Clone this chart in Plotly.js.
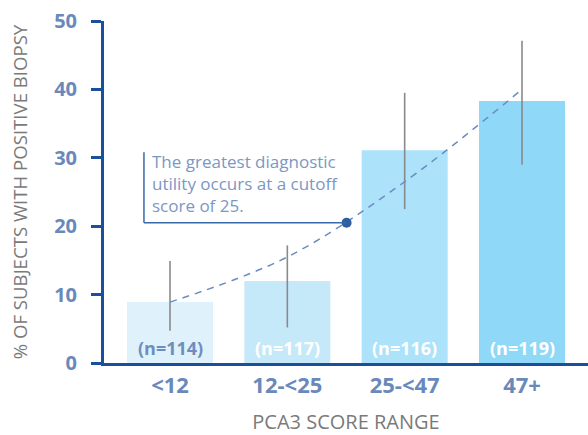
<!DOCTYPE html>
<html>
<head>
<meta charset="utf-8">
<script src="https://cdn.plot.ly/plotly-3.0.1.min.js"></script>
<style>html,body{margin:0;padding:0;background:#fff;}#chart{width:588px;height:435px;}</style>
</head>
<body>
<div id="chart"></div>
<script>
var categories = ["<12", "12-<25", "25-<47", "47+"];
var positivePct = [8.9, 12.0, 31.1, 38.3];
var ciUpper = [14.9, 17.2, 39.5, 47.1];
var ciLower = [4.7, 5.2, 22.5, 29.0];
var sampleLabels = ["(n=114)", "(n=117)", "(n=116)", "(n=119)"];
var barColors = ["#dff2fc", "#c6e9f9", "#ade2fb", "#8fd8f7"];
var nLabelColors = ["#6f8dbd", "#ffffff", "#ffffff", "#ffffff"];
var trendX = [0, 1, 2, 3];
var trendY = [8.9, 15.5, 26.5, 40.0];
var cutoffPoint = {x: 1.505, y: 20.5};
var noteLines = ["The greatest diagnostic", "utility occurs at a cutoff", "score of 25."];

var FONT = "'Open Sans', sans-serif";
var idx = categories.map(function(_, i){ return i; });

var bars = {
  type: "bar",
  x: idx,
  y: positivePct,
  width: 0.733,
  marker: {color: barColors},
  error_y: {
    type: "data", symmetric: false,
    array: positivePct.map(function(v, i){ return ciUpper[i] - v; }),
    arrayminus: positivePct.map(function(v, i){ return v - ciLower[i]; }),
    color: "#8a8a8a", thickness: 1.6, width: 0
  },
  hoverinfo: "none",
  showlegend: false
};

var trend = {
  type: "scatter", mode: "lines",
  x: trendX, y: trendY,
  line: {color: "#6a8cc0", width: 1.5, dash: "7px,6px", shape: "spline", smoothing: 1},
  hoverinfo: "none", showlegend: false
};

var cutoff = {
  type: "scatter", mode: "markers",
  x: [cutoffPoint.x], y: [cutoffPoint.y],
  marker: {color: "#2f5f9f", size: 10},
  hoverinfo: "none", showlegend: false
};

var noteLeft = -0.222, noteTop = 30.8;

var annotations = idx.map(function(i){
  return {
    x: i, y: 0, xref: "x", yref: "y",
    text: "<b>" + sampleLabels[i] + "</b>",
    showarrow: false, yanchor: "bottom", yshift: 1,
    font: {family: FONT, size: 18, color: nLabelColors[i]}
  };
});
annotations.push({
  x: noteLeft, y: noteTop, xref: "x", yref: "y",
  xanchor: "left", yanchor: "top", xshift: 7, yshift: 3,
  align: "left", borderpad: 0, showarrow: false,
  text: noteLines.join("<br>"),
  font: {family: FONT, size: 17, color: "#7b97c5"}
});

var shapes = [
  {type: "line", xref: "x", yref: "y", x0: noteLeft, x1: noteLeft, y0: noteTop, y1: cutoffPoint.y,
   line: {color: "#3a69aa", width: 1.5}},
  {type: "line", xref: "x", yref: "y", x0: noteLeft, x1: cutoffPoint.x, y0: cutoffPoint.y, y1: cutoffPoint.y,
   line: {color: "#3a69aa", width: 1.5}}
];

var layout = {
  width: 588, height: 435,
  margin: {l: 104, r: 0, t: 21, b: 72, pad: 0},
  paper_bgcolor: "#ffffff", plot_bgcolor: "#ffffff",
  xaxis: {
    range: [-0.5625, 3.5625],
    tickmode: "array", tickvals: idx, ticktext: categories.map(function(c){ return "<b>" + c + "</b>"; }),
    tickfont: {family: FONT, size: 22, color: "#6a89bb"},
    showline: true, linecolor: "#1a4f9c", linewidth: 3,
    ticks: "", showgrid: false, zeroline: false,
    ticklabelstandoff: 1,
    title: {text: "PCA3 SCORE RANGE", font: {family: FONT, size: 20, color: "#7a7a7a"}, standoff: 20}
  },
  yaxis: {
    range: [0, 50],
    tickvals: [0, 10, 20, 30, 40, 50],
    ticktext: ["<b>0</b>", "<b>10</b>", "<b>20</b>", "<b>30</b>", "<b>40</b>", "<b>50</b>"],
    tickfont: {family: FONT, size: 20, color: "#6a89bb"},
    showline: true, linecolor: "#1a4f9c", linewidth: 3,
    ticks: "outside", ticklen: 10, tickwidth: 3, tickcolor: "#1a4f9c",
    ticklabelstandoff: 10,
    showgrid: false, zeroline: false,
    title: {text: "% OF SUBJECTS WITH POSITIVE BIOPSY", font: {family: FONT, size: 18.6, color: "#7a7a7a"}, standoff: 22}
  },
  annotations: annotations,
  shapes: shapes,
  showlegend: false
};

Plotly.newPlot("chart", [bars, trend, cutoff], layout, {displayModeBar: false, staticPlot: true});
</script>
</body>
</html>
